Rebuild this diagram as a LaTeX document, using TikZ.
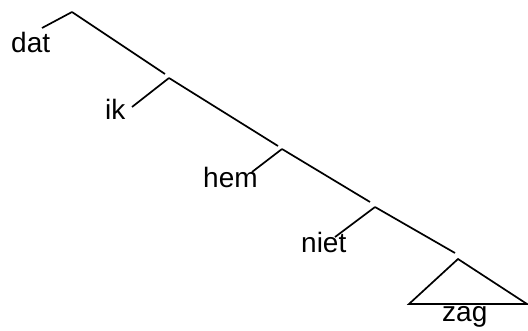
\documentclass[tikz,border=0pt]{standalone}
\usepackage{fontspec}
\setmainfont{Liberation Sans}
\begin{document}
\begin{tikzpicture}[x=1pt,y=-1pt,
  branch/.style={line width=1.7pt,line cap=butt},
  word/.style={anchor=base west,inner sep=0pt,font=\fontsize{28}{32}\selectfont}]
\useasboundingbox (0,0) rectangle (528,331);
% branching points and branch ends
\coordinate (r0) at (72,12);
\coordinate (d0) at (42,28);
\coordinate (e0) at (165,74);
\coordinate (r1) at (169,78);
\coordinate (d1) at (132,107);
\coordinate (e1) at (278,146);
\coordinate (r2) at (282,149);
\coordinate (d2) at (252,172);
\coordinate (e2) at (370,202);
\coordinate (r3) at (375,207);
\coordinate (d3) at (335,237);
\coordinate (e3) at (455,253);
\coordinate (r4) at (458,259);
\coordinate (t1) at (409,304);
\coordinate (t2) at (527,304);
% words
\node[word] (dat) at (11,53) {dat};
\node[word] (ik) at (105,120) {ik};
\node[word] (hem) at (203,188) {hem};
\node[word] (niet) at (301,253) {niet};
\node[word] (zag) at (442,322) {zag};
% branches
\draw[branch] (r0) -- (d0);
\draw[branch] (r0) -- (e0);
\draw[branch] (r1) -- (d1);
\draw[branch] (r1) -- (e1);
\draw[branch] (r2) -- (d2);
\draw[branch] (r2) -- (e2);
\draw[branch] (r3) -- (d3);
\draw[branch] (r3) -- (e3);
\draw[branch,line join=miter] (t1) -- (r4) -- (t2) -- cycle;
\end{tikzpicture}
\end{document}
